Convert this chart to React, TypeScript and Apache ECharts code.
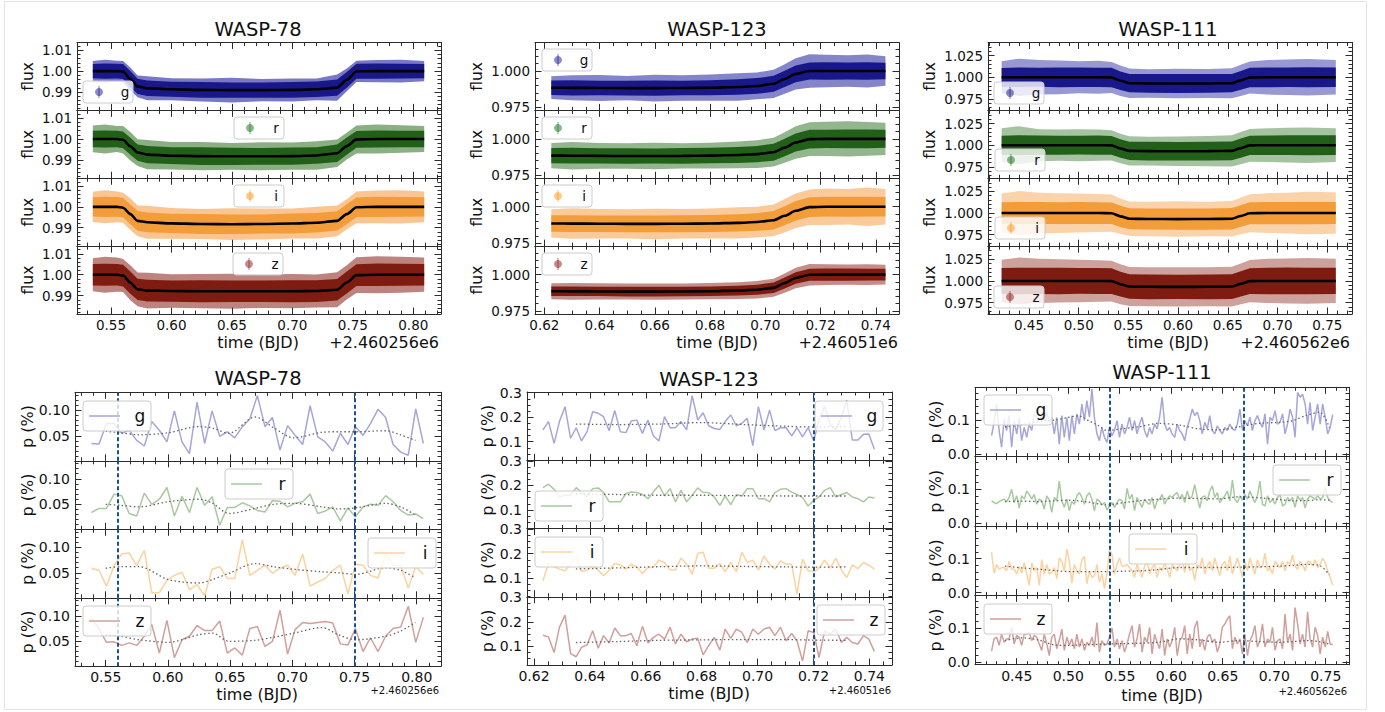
import React, { useEffect, useRef } from "react";
import * as echarts from "echarts";

// ================= tick labels =================
const xTicks78 = [0.55, 0.6, 0.65, 0.7, 0.75, 0.8];
const xTicks123 = [0.62, 0.64, 0.66, 0.68, 0.7, 0.72, 0.74];
const xTicks111 = [0.45, 0.5, 0.55, 0.6, 0.65, 0.7, 0.75];
const yTicksFlux78 = [0.99, 1.0, 1.01];
const yTicksFlux123 = [0.975, 1.0];
const yTicksFlux111 = [0.975, 1.0, 1.025];
const yTicksPol78 = [0.05, 0.1];
const yTicksPol123 = [0.1, 0.2, 0.3];
const yTicksPol111 = [0.0, 0.1];

const bandNames = ["g", "r", "i", "z"];
const targetNames = ["WASP-78", "WASP-123", "WASP-111"];
const offsetTexts = ["+2.460256e6", "+2.46051e6", "+2.460562e6"];

// ================= light curves: knots, transit models, scatter half-widths =================
const knots78 = [0.535, 0.545, 0.555, 0.56, 0.566, 0.572, 0.58, 0.6, 0.625, 0.65, 0.675, 0.7, 0.72, 0.737, 0.745, 0.753, 0.77, 0.79, 0.809];
const model78g = [1.0, 1.0, 1.0, 0.9998, 0.9962, 0.9927, 0.9918, 0.9913, 0.991, 0.9909, 0.9909, 0.991, 0.9913, 0.9921, 0.9958, 0.9999, 1.0, 1.0, 1.0];
const model78r = [1.0, 1.0, 1.0, 0.9996, 0.9965, 0.9935, 0.9925, 0.992, 0.9918, 0.9917, 0.9917, 0.9918, 0.9921, 0.9932, 0.9966, 0.9998, 1.0, 1.0, 1.0];
const model78i = [1.0, 1.0, 1.0, 0.9996, 0.9965, 0.9933, 0.9926, 0.9921, 0.9918, 0.9917, 0.9918, 0.992, 0.9924, 0.9933, 0.9965, 0.9998, 1.0, 1.0, 1.0];
const model78z = [1.0, 1.0, 1.0, 0.9996, 0.9962, 0.993, 0.9924, 0.9922, 0.9921, 0.9921, 0.9921, 0.9921, 0.9922, 0.9928, 0.9963, 0.9998, 1.0, 1.0, 1.0];
const core78g = [0.0034, 0.0037, 0.0035, 0.0036, 0.0038, 0.0036, 0.0037, 0.0036, 0.0038, 0.0037, 0.0036, 0.0038, 0.0037, 0.0039, 0.0038, 0.0036, 0.0037, 0.0035, 0.0034];
const outer78g = [0.0048, 0.0054, 0.005, 0.0051, 0.0055, 0.0052, 0.0057, 0.0053, 0.0055, 0.0059, 0.0053, 0.0055, 0.0052, 0.0063, 0.0055, 0.0051, 0.0053, 0.0055, 0.0048];
const core78r = [0.0039, 0.0041, 0.0039, 0.004, 0.0041, 0.0039, 0.0041, 0.004, 0.0042, 0.0041, 0.004, 0.0041, 0.004, 0.0042, 0.0041, 0.004, 0.0041, 0.004, 0.0039];
const outer78r = [0.0064, 0.0069, 0.0062, 0.0066, 0.0068, 0.0064, 0.007, 0.0066, 0.0068, 0.0064, 0.0067, 0.0065, 0.0068, 0.0066, 0.0064, 0.0067, 0.0069, 0.0066, 0.0062];
const core78i = [0.0046, 0.0048, 0.0047, 0.0046, 0.0048, 0.0047, 0.0047, 0.0046, 0.0048, 0.0047, 0.0046, 0.0048, 0.0047, 0.0046, 0.0048, 0.0047, 0.0048, 0.0047, 0.0046];
const outer78i = [0.0072, 0.0079, 0.0074, 0.0072, 0.0076, 0.0074, 0.0079, 0.0074, 0.0072, 0.0076, 0.0074, 0.0072, 0.0076, 0.0074, 0.0072, 0.0076, 0.0078, 0.008, 0.0074];
const core78z = [0.0051, 0.0053, 0.0051, 0.0052, 0.0053, 0.0051, 0.0052, 0.0051, 0.0053, 0.0052, 0.0051, 0.0053, 0.0052, 0.0051, 0.0053, 0.0052, 0.0054, 0.0053, 0.0051];
const outer78z = [0.0079, 0.0086, 0.0082, 0.0079, 0.0084, 0.0081, 0.0086, 0.008, 0.0082, 0.0084, 0.008, 0.0082, 0.0079, 0.0084, 0.0082, 0.0086, 0.0089, 0.0086, 0.0082];

const knots123 = [0.6225, 0.63, 0.64, 0.65, 0.66, 0.67, 0.68, 0.69, 0.697, 0.703, 0.707, 0.711, 0.716, 0.722, 0.73, 0.737, 0.7435];
const model123g = [0.9885, 0.9884, 0.9883, 0.9882, 0.9882, 0.9883, 0.9885, 0.989, 0.9897, 0.9912, 0.9945, 0.998, 1.0, 1.0, 1.0, 1.0, 1.0];
const model123r = [0.9885, 0.9884, 0.9883, 0.9882, 0.9882, 0.9883, 0.9885, 0.9889, 0.9895, 0.9908, 0.994, 0.9975, 0.9998, 1.0, 1.0, 1.0, 1.0];
const model123i = [0.9885, 0.9884, 0.9883, 0.9882, 0.9882, 0.9883, 0.9885, 0.9889, 0.9895, 0.9907, 0.9938, 0.9972, 0.9997, 1.0, 1.0, 1.0, 1.0];
const model123z = [0.9886, 0.9885, 0.9884, 0.9883, 0.9883, 0.9884, 0.9886, 0.989, 0.9896, 0.9909, 0.9942, 0.9977, 0.9999, 1.0, 1.0, 1.0, 1.0];
const core123g = [0.005, 0.0052, 0.005, 0.0051, 0.0053, 0.005, 0.0052, 0.0053, 0.0054, 0.0055, 0.0056, 0.0058, 0.0059, 0.006, 0.0058, 0.006, 0.0057];
const outer123g = [0.0078, 0.0086, 0.009, 0.0083, 0.0092, 0.0088, 0.009, 0.0095, 0.0092, 0.0097, 0.0102, 0.0107, 0.0116, 0.0112, 0.0109, 0.0114, 0.0102];
const core123r = [0.0052, 0.0054, 0.0052, 0.0053, 0.0052, 0.0054, 0.0053, 0.0055, 0.0056, 0.0058, 0.006, 0.0062, 0.0064, 0.0063, 0.0065, 0.0064, 0.0062];
const outer123r = [0.0087, 0.0095, 0.0089, 0.0087, 0.0091, 0.0087, 0.0089, 0.0092, 0.0095, 0.0099, 0.0105, 0.0111, 0.0116, 0.0118, 0.0121, 0.0116, 0.0111];
const core123i = [0.0057, 0.0058, 0.0057, 0.0058, 0.0057, 0.0058, 0.0059, 0.006, 0.0061, 0.0063, 0.0065, 0.0067, 0.0068, 0.0068, 0.0069, 0.0068, 0.0067];
const outer123i = [0.0097, 0.0105, 0.0102, 0.0101, 0.0105, 0.0102, 0.0103, 0.0107, 0.0105, 0.0109, 0.0115, 0.0119, 0.0122, 0.0125, 0.0122, 0.0132, 0.0122];
const core123z = [0.0033, 0.0033, 0.0032, 0.0033, 0.0034, 0.0033, 0.0033, 0.0034, 0.0035, 0.0036, 0.0038, 0.004, 0.0042, 0.0042, 0.0042, 0.0041, 0.004];
const outer123z = [0.0055, 0.0058, 0.0056, 0.0055, 0.0056, 0.0055, 0.0056, 0.0058, 0.006, 0.0062, 0.0066, 0.007, 0.0074, 0.0072, 0.007, 0.0072, 0.0068];

const knots111 = [0.4225, 0.44, 0.46, 0.48, 0.5, 0.52, 0.533, 0.542, 0.551, 0.57, 0.6, 0.63, 0.654, 0.663, 0.672, 0.69, 0.71, 0.73, 0.7585];
const model111g = [1, 1, 1, 1, 1, 1, 0.9998, 0.996, 0.9932, 0.9929, 0.9928, 0.9929, 0.9932, 0.9965, 0.9998, 1, 1, 1, 1];
const model111r = [1, 1, 1, 1, 1, 1, 0.9998, 0.9962, 0.9934, 0.9931, 0.993, 0.9931, 0.9934, 0.9966, 0.9998, 1, 1, 1, 1];
const model111i = [1, 1, 1, 1, 1, 1, 0.9998, 0.9962, 0.9934, 0.9931, 0.993, 0.9931, 0.9934, 0.9966, 0.9998, 1, 1, 1, 1];
const model111z = [1, 1, 1, 1, 1, 1, 0.9998, 0.9962, 0.9935, 0.9932, 0.9931, 0.9932, 0.9935, 0.9966, 0.9998, 1, 1, 1, 1];
const core111g = [0.0108, 0.0113, 0.011, 0.0114, 0.0112, 0.0111, 0.0113, 0.0108, 0.0106, 0.0108, 0.011, 0.0108, 0.0106, 0.0108, 0.0112, 0.0114, 0.0113, 0.0115, 0.0113];
const outer111g = [0.0185, 0.0215, 0.02, 0.0195, 0.0185, 0.019, 0.018, 0.0175, 0.017, 0.0165, 0.017, 0.0168, 0.0173, 0.018, 0.0185, 0.02, 0.0205, 0.021, 0.02];
const core111r = [0.011, 0.0114, 0.0112, 0.011, 0.0108, 0.0111, 0.0108, 0.0106, 0.0106, 0.0108, 0.0107, 0.0108, 0.0109, 0.011, 0.0112, 0.0113, 0.0114, 0.0115, 0.0114];
const outer111r = [0.0195, 0.022, 0.0185, 0.018, 0.0185, 0.018, 0.0175, 0.017, 0.017, 0.0165, 0.017, 0.0175, 0.018, 0.0185, 0.019, 0.0195, 0.02, 0.0205, 0.0195];
const core111i = [0.0125, 0.0129, 0.0127, 0.0125, 0.0127, 0.0126, 0.0125, 0.0123, 0.0122, 0.0121, 0.0122, 0.0123, 0.0124, 0.0125, 0.0127, 0.0128, 0.0129, 0.0129, 0.0127];
const outer111i = [0.0225, 0.0255, 0.0235, 0.023, 0.0225, 0.022, 0.0215, 0.0205, 0.02, 0.02, 0.0205, 0.02, 0.0205, 0.021, 0.022, 0.023, 0.0235, 0.0245, 0.024];
const core111z = [0.0148, 0.0153, 0.0151, 0.0153, 0.0149, 0.015, 0.0148, 0.0143, 0.0141, 0.0143, 0.0141, 0.0143, 0.0143, 0.0145, 0.0149, 0.0153, 0.0155, 0.0153, 0.0151];
const outer111z = [0.0245, 0.027, 0.0255, 0.025, 0.0245, 0.024, 0.0235, 0.023, 0.0225, 0.0225, 0.0227, 0.0225, 0.023, 0.0235, 0.0245, 0.0255, 0.026, 0.0265, 0.0255];

// ================= polarisation (binned) =================
const time78 = [0.5385, 0.5446, 0.5506, 0.5567, 0.5628, 0.5688, 0.5749, 0.581, 0.587, 0.5931, 0.5992, 0.6052, 0.6113, 0.6173, 0.6234, 0.6295, 0.6355, 0.6416, 0.6477, 0.6537, 0.6598, 0.6658, 0.6719, 0.678, 0.684, 0.6901, 0.6962, 0.7022, 0.7083, 0.7143, 0.7204, 0.7265, 0.7325, 0.7386, 0.7447, 0.7507, 0.7568, 0.7628, 0.7689, 0.775, 0.781, 0.7871, 0.7932, 0.7992, 0.8053];
const pol78g = [0.035, 0.034, 0.074, 0.074, 0.055, 0.061, 0.041, 0.03, 0.078, 0.061, 0.038, 0.099, 0.038, 0.015, 0.116, 0.035, 0.099, 0.049, 0.058, 0.046, 0.068, 0.083, 0.129, 0.068, 0.086, 0.022, 0.07, 0.051, 0.033, 0.109, 0.048, 0.038, 0.02, 0.055, 0.033, 0.068, 0.051, 0.074, 0.102, 0.086, 0.033, 0.018, 0.012, 0.103, 0.035];
const pol78r = [0.034, 0.042, 0.042, 0.07, 0.067, 0.032, 0.027, 0.072, 0.05, 0.06, 0.083, 0.027, 0.066, 0.034, 0.083, 0.048, 0.065, 0.009, 0.044, 0.044, 0.053, 0.047, 0.038, 0.035, 0.057, 0.056, 0.045, 0.052, 0.055, 0.07, 0.032, 0.037, 0.045, 0.017, 0.043, 0.025, 0.045, 0.05, 0.048, 0.067, 0.055, 0.038, 0.029, 0.031, 0.022];
const pol78i = [0.059, 0.055, 0.024, 0.064, 0.087, 0.089, 0.064, 0.094, 0.011, 0.011, 0.035, 0.045, 0.051, 0.017, 0.027, 0.005, 0.057, 0.062, 0.039, 0.039, 0.115, 0.045, 0.055, 0.065, 0.049, 0.059, 0.065, 0.045, 0.087, 0.024, 0.032, 0.039, 0.055, 0.065, 0.009, 0.067, 0.065, 0.045, 0.04, 0.087, 0.065, 0.065, 0.02, 0.062, 0.047];
const pol78z = [0.095, 0.075, 0.048, 0.049, 0.042, 0.047, 0.042, 0.06, 0.083, 0.027, 0.091, 0.018, 0.053, 0.06, 0.081, 0.071, 0.071, 0.09, 0.027, 0.037, 0.023, 0.075, 0.079, 0.04, 0.05, 0.111, 0.025, 0.073, 0.087, 0.085, 0.087, 0.089, 0.086, 0.045, 0.043, 0.075, 0.03, 0.057, 0.03, 0.06, 0.075, 0.078, 0.119, 0.048, 0.097];
const trendTime78 = [0.55, 0.562, 0.577, 0.6, 0.625, 0.636, 0.649, 0.67, 0.685, 0.701, 0.724, 0.737, 0.751, 0.775, 0.787, 0.799];
const trend78g = [0.059, 0.056, 0.052, 0.056, 0.068, 0.065, 0.055, 0.087, 0.066, 0.046, 0.057, 0.058, 0.058, 0.06, 0.052, 0.041];
const trend78r = [0.05, 0.048, 0.045, 0.055, 0.06, 0.052, 0.032, 0.042, 0.05, 0.052, 0.045, 0.041, 0.043, 0.052, 0.045, 0.029];
const trend78i = [0.059, 0.062, 0.062, 0.037, 0.03, 0.037, 0.049, 0.068, 0.062, 0.057, 0.052, 0.05, 0.047, 0.06, 0.055, 0.04];
const trend78z = [0.063, 0.06, 0.053, 0.048, 0.063, 0.066, 0.05, 0.052, 0.058, 0.066, 0.077, 0.063, 0.053, 0.06, 0.07, 0.087];
const transits78 = [0.5613, 0.7524];

const time123 = [0.6232, 0.6252, 0.6272, 0.6291, 0.6311, 0.6331, 0.6351, 0.637, 0.639, 0.641, 0.643, 0.6449, 0.6469, 0.6489, 0.6509, 0.6529, 0.6548, 0.6568, 0.6588, 0.6608, 0.6627, 0.6647, 0.6667, 0.6687, 0.6706, 0.6726, 0.6746, 0.6766, 0.6786, 0.6805, 0.6825, 0.6845, 0.6865, 0.6884, 0.6904, 0.6924, 0.6944, 0.6963, 0.6983, 0.7003, 0.7023, 0.7043, 0.7062, 0.7082, 0.7102, 0.7122, 0.7141, 0.7161, 0.7181, 0.7201, 0.722, 0.724, 0.726, 0.728, 0.73, 0.7319, 0.7339, 0.7359, 0.7379, 0.7398, 0.7418];
const pol123g = [0.148, 0.182, 0.093, 0.182, 0.243, 0.114, 0.157, 0.103, 0.141, 0.222, 0.216, 0.202, 0.145, 0.227, 0.141, 0.137, 0.184, 0.188, 0.134, 0.188, 0.124, 0.103, 0.202, 0.157, 0.157, 0.182, 0.148, 0.288, 0.188, 0.218, 0.165, 0.154, 0.15, 0.182, 0.209, 0.165, 0.175, 0.195, 0.084, 0.243, 0.148, 0.229, 0.145, 0.157, 0.157, 0.124, 0.157, 0.12, 0.157, 0.103, 0.19, 0.245, 0.168, 0.15, 0.2, 0.27, 0.107, 0.107, 0.13, 0.131, 0.069];
const pol123r = [0.191, 0.205, 0.184, 0.153, 0.16, 0.16, 0.191, 0.171, 0.153, 0.187, 0.19, 0.171, 0.133, 0.133, 0.133, 0.167, 0.173, 0.171, 0.163, 0.146, 0.173, 0.201, 0.157, 0.187, 0.133, 0.18, 0.133, 0.16, 0.19, 0.171, 0.171, 0.153, 0.119, 0.157, 0.122, 0.163, 0.157, 0.187, 0.187, 0.146, 0.146, 0.133, 0.171, 0.184, 0.187, 0.173, 0.163, 0.15, 0.116, 0.139, 0.153, 0.18, 0.191, 0.153, 0.163, 0.171, 0.153, 0.146, 0.133, 0.153, 0.149];
const pol123i = [0.089, 0.16, 0.146, 0.137, 0.13, 0.157, 0.187, 0.127, 0.133, 0.15, 0.133, 0.11, 0.133, 0.16, 0.154, 0.137, 0.157, 0.146, 0.119, 0.144, 0.144, 0.174, 0.164, 0.134, 0.133, 0.182, 0.157, 0.116, 0.201, 0.206, 0.141, 0.141, 0.16, 0.127, 0.164, 0.127, 0.205, 0.164, 0.174, 0.133, 0.191, 0.157, 0.137, 0.171, 0.157, 0.157, 0.035, 0.178, 0.13, 0.126, 0.141, 0.174, 0.141, 0.182, 0.133, 0.103, 0.154, 0.139, 0.164, 0.153, 0.137];
const pol123z = [0.146, 0.139, 0.075, 0.178, 0.228, 0.071, 0.058, 0.096, 0.107, 0.164, 0.093, 0.144, 0.114, 0.175, 0.144, 0.144, 0.153, 0.103, 0.182, 0.114, 0.137, 0.15, 0.13, 0.178, 0.11, 0.15, 0.119, 0.13, 0.133, 0.066, 0.103, 0.137, 0.085, 0.171, 0.133, 0.171, 0.157, 0.116, 0.171, 0.15, 0.171, 0.178, 0.144, 0.178, 0.123, 0.153, 0.123, 0.041, 0.164, 0.157, 0.055, 0.164, 0.15, 0.171, 0.116, 0.137, 0.116, 0.11, 0.144, 0.13, 0.08];
const trendTime123 = [0.635, 0.65, 0.665, 0.68, 0.695, 0.71, 0.72, 0.732];
const trend123g = [0.172, 0.17, 0.172, 0.178, 0.17, 0.163, 0.16, 0.161];
const trend123r = [0.166, 0.163, 0.16, 0.16, 0.158, 0.157, 0.157, 0.157];
const trend123i = [0.138, 0.142, 0.147, 0.15, 0.148, 0.146, 0.145, 0.146];
const trend123z = [0.116, 0.12, 0.125, 0.127, 0.128, 0.128, 0.126, 0.125];
const transits123 = [0.7189];

const time111 = [
  0.4256, 0.428, 0.4305, 0.4329, 0.4353, 0.4378, 0.4402, 0.4426, 0.4451, 0.4475,
  0.45, 0.4524, 0.4548, 0.4573, 0.4597, 0.4621, 0.4646, 0.467, 0.4694, 0.4719,
  0.4743, 0.4767, 0.4792, 0.4816, 0.484, 0.4865, 0.4889, 0.4913, 0.4938, 0.4962,
  0.4987, 0.5011, 0.5035, 0.506, 0.5084, 0.5108, 0.5133, 0.5157, 0.5181, 0.5206,
  0.523, 0.5254, 0.5279, 0.5303, 0.5327, 0.5352, 0.5376, 0.54, 0.5425, 0.5449,
  0.5474, 0.5498, 0.5522, 0.5547, 0.5571, 0.5595, 0.562, 0.5644, 0.5668, 0.5693,
  0.5717, 0.5741, 0.5766, 0.579, 0.5814, 0.5839, 0.5863, 0.5887, 0.5912, 0.5936,
  0.5961, 0.5985, 0.6009, 0.6034, 0.6058, 0.6082, 0.6107, 0.6131, 0.6155, 0.618,
  0.6204, 0.6228, 0.6253, 0.6277, 0.6301, 0.6326, 0.635, 0.6374, 0.6399, 0.6423,
  0.6448, 0.6472, 0.6496, 0.6521, 0.6545, 0.6569, 0.6594, 0.6618, 0.6642, 0.6667,
  0.6691, 0.6715, 0.674, 0.6764, 0.6788, 0.6813, 0.6837, 0.6861, 0.6886, 0.691,
  0.6935, 0.6959, 0.6983, 0.7008, 0.7032, 0.7056, 0.7081, 0.7105, 0.7129, 0.7154,
  0.7178, 0.7202, 0.7227, 0.7251, 0.7275, 0.73, 0.7324, 0.7348, 0.7373, 0.7397,
  0.7422, 0.7446, 0.747, 0.7495, 0.7519, 0.7543, 0.7568,
];
const pol111g = [
  0.054, 0.093, 0.147, 0.069, 0.02, 0.103, 0.069, 0.113, 0.02, 0.098,
  0.059, 0.108, 0.039, 0.078, 0.049, 0.088, 0.069, 0.118, 0.108, 0.103,
  0.113, 0.098, 0.123, 0.093, 0.108, 0.059, 0.108, 0.029, 0.113, 0.049,
  0.108, 0.039, 0.113, 0.059, 0.118, 0.088, 0.147, 0.098, 0.157, 0.108,
  0.191, 0.108, 0.059, 0.039, 0.078, 0.049, 0.034, 0.078, 0.054, 0.069,
  0.098, 0.049, 0.088, 0.059, 0.078, 0.108, 0.069, 0.098, 0.059, 0.088,
  0.108, 0.069, 0.049, 0.078, 0.059, 0.088, 0.074, 0.108, 0.167, 0.088,
  0.069, 0.078, 0.059, 0.049, 0.088, 0.069, 0.059, 0.039, 0.078, 0.103,
  0.132, 0.113, 0.123, 0.098, 0.059, 0.093, 0.074, 0.113, 0.069, 0.059,
  0.083, 0.069, 0.059, 0.078, 0.069, 0.088, 0.074, 0.069, 0.088, 0.132,
  0.069, 0.098, 0.083, 0.108, 0.069, 0.098, 0.113, 0.093, 0.078, 0.118,
  0.029, 0.108, 0.098, 0.127, 0.088, 0.093, 0.118, 0.059, 0.088, 0.132,
  0.108, 0.049, 0.181, 0.167, 0.176, 0.147, 0.088, 0.152, 0.069, 0.108,
  0.147, 0.088, 0.147, 0.108, 0.059, 0.078, 0.116,
];
const pol111r = [
  0.066, 0.061, 0.058, 0.064, 0.068, 0.071, 0.064, 0.076, 0.1, 0.061,
  0.081, 0.045, 0.081, 0.071, 0.095, 0.085, 0.071, 0.085, 0.056, 0.071,
  0.066, 0.042, 0.081, 0.068, 0.032, 0.076, 0.066, 0.124, 0.066, 0.047,
  0.071, 0.037, 0.064, 0.056, 0.081, 0.09, 0.076, 0.056, 0.081, 0.09,
  0.071, 0.037, 0.071, 0.066, 0.054, 0.061, 0.039, 0.051, 0.061, 0.047,
  0.061, 0.071, 0.066, 0.042, 0.103, 0.071, 0.085, 0.037, 0.076, 0.061,
  0.047, 0.071, 0.061, 0.056, 0.076, 0.042, 0.066, 0.071, 0.085, 0.056,
  0.071, 0.081, 0.076, 0.085, 0.09, 0.071, 0.085, 0.061, 0.095, 0.071,
  0.081, 0.114, 0.076, 0.045, 0.076, 0.081, 0.066, 0.095, 0.11, 0.076,
  0.09, 0.061, 0.071, 0.081, 0.095, 0.066, 0.127, 0.071, 0.061, 0.081,
  0.068, 0.085, 0.071, 0.095, 0.076, 0.061, 0.081, 0.124, 0.056, 0.051,
  0.081, 0.061, 0.071, 0.056, 0.076, 0.085, 0.051, 0.056, 0.076, 0.066,
  0.076, 0.047, 0.081, 0.068, 0.076, 0.045, 0.071, 0.081, 0.076, 0.071,
  0.081, 0.071, 0.076, 0.105, 0.076, 0.066, 0.061,
];
const pol111i = [
  0.119, 0.057, 0.083, 0.069, 0.074, 0.074, 0.064, 0.092, 0.069, 0.069,
  0.055, 0.078, 0.057, 0.088, 0.055, 0.022, 0.088, 0.064, 0.074, 0.022,
  0.097, 0.055, 0.083, 0.055, 0.059, 0.074, 0.041, 0.102, 0.092, 0.064,
  0.128, 0.092, 0.028, 0.083, 0.064, 0.055, 0.097, 0.107, 0.026, 0.064,
  0.045, 0.05, 0.083, 0.031, 0.055, 0.012, 0.055, 0.125, 0.111, 0.055,
  0.083, 0.102, 0.078, 0.078, 0.083, 0.074, 0.064, 0.045, 0.083, 0.064,
  0.045, 0.078, 0.092, 0.055, 0.074, 0.083, 0.045, 0.074, 0.064, 0.088,
  0.069, 0.045, 0.083, 0.074, 0.064, 0.083, 0.092, 0.059, 0.107, 0.064,
  0.074, 0.036, 0.083, 0.074, 0.102, 0.055, 0.078, 0.092, 0.064, 0.102,
  0.074, 0.05, 0.083, 0.092, 0.064, 0.107, 0.055, 0.078, 0.102, 0.074,
  0.045, 0.092, 0.064, 0.102, 0.078, 0.055, 0.097, 0.074, 0.078, 0.116,
  0.064, 0.074, 0.055, 0.092, 0.083, 0.074, 0.092, 0.064, 0.092, 0.083,
  0.111, 0.078, 0.069, 0.092, 0.083, 0.064, 0.091, 0.092, 0.078, 0.097,
  0.074, 0.083, 0.102, 0.088, 0.064, 0.045, 0.022,
];
const pol111z = [
  0.032, 0.068, 0.073, 0.049, 0.082, 0.058, 0.068, 0.068, 0.102, 0.053,
  0.078, 0.073, 0.049, 0.082, 0.082, 0.087, 0.063, 0.078, 0.073, 0.053,
  0.034, 0.082, 0.053, 0.019, 0.073, 0.082, 0.039, 0.063, 0.097, 0.034,
  0.073, 0.049, 0.068, 0.039, 0.082, 0.044, 0.068, 0.034, 0.058, 0.049,
  0.073, 0.044, 0.116, 0.029, 0.063, 0.049, 0.053, 0.073, 0.1, 0.044,
  0.068, 0.039, 0.063, 0.029, 0.053, 0.082, 0.107, 0.044, 0.068, 0.112,
  0.029, 0.073, 0.058, 0.102, 0.024, 0.082, 0.058, 0.039, 0.097, 0.019,
  0.068, 0.044, 0.063, 0.102, 0.019, 0.063, 0.073, 0.107, 0.024, 0.082,
  0.039, 0.102, 0.121, 0.044, 0.068, 0.034, 0.073, 0.082, 0.058, 0.068,
  0.029, 0.053, 0.102, 0.112, 0.126, 0.136, 0.039, 0.073, 0.053, 0.068,
  0.024, 0.082, 0.019, 0.063, 0.078, 0.107, 0.044, 0.063, 0.112, 0.044,
  0.068, 0.058, 0.102, 0.034, 0.063, 0.068, 0.039, 0.141, 0.058,
  0.082, 0.034, 0.16, 0.112, 0.053, 0.082, 0.044, 0.148, 0.068, 0.044,
  0.102, 0.078, 0.024, 0.073, 0.044, 0.09, 0.053, 0.051,
];
const trendTime111 = [0.4386, 0.4549, 0.4711, 0.4873, 0.5003, 0.5101, 0.5198, 0.5296, 0.5377, 0.5523, 0.5685, 0.588, 0.6075, 0.627, 0.6464, 0.6659, 0.6854, 0.7049, 0.7179, 0.7309, 0.7439, 0.7536];
const trend111g = [0.08, 0.086, 0.096, 0.1, 0.108, 0.112, 0.098, 0.083, 0.069, 0.074, 0.08, 0.09, 0.085, 0.074, 0.071, 0.08, 0.09, 0.093, 0.098, 0.113, 0.123, 0.078];
const trend111r = [0.064, 0.065, 0.064, 0.066, 0.068, 0.066, 0.062, 0.057, 0.054, 0.06, 0.066, 0.071, 0.074, 0.073, 0.072, 0.078, 0.075, 0.07, 0.066, 0.067, 0.069, 0.068];
const trend111i = [0.078, 0.073, 0.069, 0.065, 0.062, 0.062, 0.062, 0.062, 0.062, 0.063, 0.064, 0.068, 0.074, 0.074, 0.074, 0.075, 0.076, 0.078, 0.08, 0.083, 0.08, 0.052];
const trend111z = [0.063, 0.071, 0.065, 0.05, 0.049, 0.05, 0.051, 0.052, 0.053, 0.054, 0.055, 0.058, 0.068, 0.065, 0.058, 0.063, 0.06, 0.058, 0.06, 0.063, 0.06, 0.052];
const transits111 = [0.5374, 0.6704];

// ================= styles =================
const FONT = "DejaVu Sans";
const TXT = "#111111";
const AX = "#2b2b2b";
const coreCol = ["#18188a", "#22601a", "#f39c3a", "#7e1c12"];
const outerRGB = ["10,10,150", "40,110,30", "245,150,55", "135,30,20"];
const iconCol = ["rgba(0,0,128,0.45)", "rgba(0,100,0,0.45)", "rgba(255,140,0,0.45)", "rgba(128,0,0,0.45)"];
const polCol = ["#a6a6d8", "#a9c9a0", "#fcd29f", "#cfa09c"];

function minorTicks(min: number, max: number, step: number, majors: number[]) {
  const out: number[] = [];
  const k0 = Math.ceil(min / step - 1e-6);
  const k1 = Math.floor(max / step + 1e-6);
  for (let k = k0; k <= k1; k++) {
    const v = +(k * step).toFixed(6);
    if (v <= min || v >= max) continue;
    if (majors.some((m) => Math.abs(m - v) < step * 0.01)) continue;
    out.push(v);
  }
  return out;
}

// band polygon drawn through the axis scales (api.coord)
function bandRenderer(color: string) {
  return (params: any, api: any) => {
    if (params.dataIndex !== 0) return null;
    const n = params.dataInsideLength;
    const upper: number[][] = [];
    const lower: number[][] = [];
    for (let j = 0; j < n; j++) {
      const t = api.value(0, j);
      upper.push(api.coord([t, api.value(2, j)]));
      lower.push(api.coord([t, api.value(1, j)]));
    }
    return {
      type: "polygon",
      shape: { points: upper.concat(lower.reverse()) },
      style: { fill: color, stroke: "none" },
      silent: true,
    };
  };
}

function buildOption() {
  const grids: any[] = [];
  const xAxes: any[] = [];
  const yAxes: any[] = [];
  const series: any[] = [];
  const gfx: any[] = [];

  const addSubplot = (o: any) => {
    const gi = grids.length;
    grids.push({ left: o.left, top: o.top, width: o.width, height: o.height, containLabel: false });
    const xMaj = o.xTicks.filter((v: number) => v > o.xr[0] && v < o.xr[1]);
    const yMaj = o.yTicks.filter((v: number) => v >= o.yr[0] && v <= o.yr[1]);
    const xMin = minorTicks(o.xr[0], o.xr[1], o.xMinor, o.xTicks);
    const yMin = minorTicks(o.yr[0], o.yr[1], o.yMinor, o.yTicks);
    const mk = (dim: string, pos: string, ticks: number[], len: number, line: boolean, label: any) => ({
      type: "value",
      gridIndex: gi,
      position: pos,
      min: dim === "x" ? o.xr[0] : o.yr[0],
      max: dim === "x" ? o.xr[1] : o.yr[1],
      axisLine: { show: line, onZero: false, lineStyle: { color: AX, width: 1 } },
      axisTick: { show: ticks.length > 0, inside: true, length: len, customValues: ticks, lineStyle: { color: AX, width: 1 } },
      axisLabel: label || { show: false },
      splitLine: { show: false },
      minorTick: { show: false },
      axisPointer: { show: false },
    });
    const xi = xAxes.length;
    xAxes.push(
      mk("x", "bottom", xMaj, 6.5, true, o.xLabels
        ? { show: true, customValues: xMaj, formatter: (v: number) => v.toFixed(2), margin: 4, fontSize: o.tickFont, color: TXT, fontFamily: FONT }
        : null)
    );
    xAxes.push(mk("x", "top", xMaj, 6.5, true, null));
    xAxes.push(mk("x", "bottom", xMin, 3.5, false, null));
    xAxes.push(mk("x", "top", xMin, 3.5, false, null));
    const yi = yAxes.length;
    yAxes.push(
      mk("y", "left", yMaj, 6.5, true, { show: true, customValues: yMaj, formatter: (v: number) => v.toFixed(o.yDec), margin: 5, fontSize: o.tickFont, color: TXT, fontFamily: FONT })
    );
    yAxes.push(mk("y", "right", yMaj, 6.5, true, null));
    yAxes.push(mk("y", "left", yMin, 3.5, false, null));
    yAxes.push(mk("y", "right", yMin, 3.5, false, null));
    return { xi, yi };
  };

  const text = (x: number, y: number, s: string, size: number, extra: any = {}) => ({
    type: "text",
    x,
    y,
    z: 100,
    rotation: extra.rotation || 0,
    style: { text: s, fontSize: size, fontFamily: FONT, fill: TXT, align: extra.align || "center", verticalAlign: "middle" },
  });

  // ---------------- light-curve panels ----------------
  const fluxPanels = [
    {
      knots: knots78,
      models: [model78g, model78r, model78i, model78z],
      cores: [core78g, core78r, core78i, core78z],
      outers: [outer78g, outer78r, outer78i, outer78z],
      outerAlpha: 0.55,
      left: 77, width: 364, xr: [0.5219, 0.8229], yr: [0.9812, 1.0137],
      xTicks: xTicks78, yTicks: yTicksFlux78, xMinor: 0.01, yMinor: 0.002, yDec: 2,
      legends: [[83, 81], [234, 117], [234, 185], [233, 253]],
      titleX: 258, ylabX: 28, xlabX: 258, offRight: 439,
    },
    {
      knots: knots123,
      models: [model123g, model123r, model123i, model123z],
      cores: [core123g, core123r, core123i, core123z],
      outers: [outer123g, outer123r, outer123i, outer123z],
      outerAlpha: 0.5,
      left: 535, width: 364, xr: [0.6166, 0.7484], yr: [0.9729, 1.0196],
      xTicks: xTicks123, yTicks: yTicksFlux123, xMinor: 0.005, yMinor: 0.005, yDec: 3,
      legends: [[542, 49], [542, 117], [542, 185], [542, 253]],
      titleX: 717, ylabX: 477, xlabX: 717, offRight: 898,
    },
    {
      knots: knots111,
      models: [model111g, model111r, model111i, model111z],
      cores: [core111g, core111r, core111i, core111z],
      outers: [outer111g, outer111r, outer111i, outer111z],
      outerAlpha: 0.42,
      left: 988, width: 364, xr: [0.4088, 0.7748], yr: [0.9618, 1.0402],
      xTicks: xTicks111, yTicks: yTicksFlux111, xMinor: 0.01, yMinor: 0.005, yDec: 3,
      legends: [[994, 82], [995, 149], [995, 217], [994, 286]],
      titleX: 1168, ylabX: 930, xlabX: 1168, offRight: 1350,
    },
  ];

  const FTOP = 42.5;
  const FH = 67.875;
  fluxPanels.forEach((p, pi) => {
    for (let b = 0; b < 4; b++) {
      const top = FTOP + b * FH;
      const { xi, yi } = addSubplot({
        left: p.left, top, width: p.width, height: FH, xr: p.xr, yr: p.yr,
        xTicks: p.xTicks, yTicks: p.yTicks, xMinor: p.xMinor, yMinor: p.yMinor,
        xLabels: b === 3, yDec: p.yDec, tickFont: 13.5,
      });
      const m = p.models[b];
      const c = p.cores[b];
      const o = p.outers[b];
      const bandBase = {
        type: "custom", xAxisIndex: xi, yAxisIndex: yi, silent: true, clip: true,
        dimensions: ["t", "lo", "hi"], encode: { x: 0, y: [1, 2] },
      };
      series.push({ ...bandBase, renderItem: bandRenderer(`rgba(${outerRGB[b]},${p.outerAlpha})`), data: p.knots.map((t, i) => [t, m[i] - o[i], m[i] + o[i]]) });
      series.push({ ...bandBase, renderItem: bandRenderer(coreCol[b]), data: p.knots.map((t, i) => [t, m[i] - c[i], m[i] + c[i]]) });
      series.push({
        type: "line", xAxisIndex: xi, yAxisIndex: yi, symbol: "none", silent: true,
        smooth: 0.25, smoothMonotone: "x", z: 3,
        lineStyle: { color: "#000", width: 2.6 },
        data: p.knots.map((t, i) => [t, m[i]]),
      });
      gfx.push(text(p.ylabX, top + FH / 2, "flux", 15.5, { rotation: Math.PI / 2 }));
      const [lx, ly] = p.legends[b];
      gfx.push({
        type: "group", x: lx, y: ly, z: 100,
        children: [
          { type: "rect", shape: { x: 0, y: 0, width: 50, height: 22, r: 3 }, style: { fill: "rgba(255,255,255,0.8)", stroke: "#cccccc", lineWidth: 1 }, z: 100 },
          { type: "line", shape: { x1: 16, y1: 5, x2: 16, y2: 17 }, style: { stroke: iconCol[b], lineWidth: 1.2 }, z: 101 },
          { type: "circle", shape: { cx: 16, cy: 11, r: 4 }, style: { fill: iconCol[b] }, z: 101 },
          { type: "text", x: 42, y: 11, z: 101, style: { text: bandNames[b], fontSize: 13.5, fontFamily: FONT, fill: TXT, align: "center", verticalAlign: "middle" } },
        ],
      });
    }
    gfx.push(text(p.titleX, 29, targetNames[pi], 19.5));
    gfx.push(text(p.xlabX, 342, "time (BJD)", 16));
    gfx.push(text(p.offRight, 342, offsetTexts[pi], 16, { align: "right" }));
  });

  // ---------------- polarisation panels ----------------
  const polPanels = [
    {
      times: time78, vals: [pol78g, pol78r, pol78i, pol78z],
      trendT: trendTime78, trends: [trend78g, trend78r, trend78i, trend78z], transits: transits78,
      left: 75, width: 366, top: 392.3, h: 68.5, xr: [0.5253, 0.8195], yr: [0.001, 0.1354],
      xTicks: xTicks78, yTicks: yTicksPol78, xMinor: 0.01, yMinor: 0.01, yDec: 2,
      legends: [[83, 401], [225, 469], [368, 538], [83, 606]],
      titleX: 258, titleY: 378, ylabX: 27, xlabX: 257, xlabY: 694, offRight: 439, offY: 690,
    },
    {
      times: time123, vals: [pol123g, pol123r, pol123i, pol123z],
      trendT: trendTime123, trends: [trend123g, trend123r, trend123i, trend123z], transits: transits123,
      left: 527, width: 365, top: 392, h: 68.25, xr: [0.6175, 0.7481], yr: [0.0243, 0.3028],
      xTicks: xTicks123, yTicks: yTicksPol123, xMinor: 0.005, yMinor: 0.025, yDec: 1,
      legends: [[815, 401], [535, 491], [535, 537], [817, 605]],
      titleX: 709, titleY: 379, ylabX: 487, xlabX: 709, xlabY: 693, offRight: 891, offY: 690,
    },
    {
      times: time111, vals: [pol111g, pol111r, pol111i, pol111z],
      trendT: trendTime111, trends: [trend111g, trend111r, trend111i, trend111z], transits: transits111,
      left: 975, width: 374, top: 387.3, h: 69.35, xr: [0.4095, 0.7726], yr: [-0.008, 0.1962],
      xTicks: xTicks111, yTicks: yTicksPol111, xMinor: 0.01, yMinor: 0.02, yDec: 1,
      legends: [[984, 395], [1273, 465], [1129, 534], [984, 604]],
      titleX: 1162, titleY: 372, ylabX: 935, xlabX: 1162, xlabY: 695, offRight: 1347, offY: 691,
    },
  ];

  polPanels.forEach((p, pi) => {
    for (let b = 0; b < 4; b++) {
      const top = p.top + b * p.h;
      const { xi, yi } = addSubplot({
        left: p.left, top, width: p.width, height: p.h, xr: p.xr, yr: p.yr,
        xTicks: p.xTicks, yTicks: p.yTicks, xMinor: p.xMinor, yMinor: p.yMinor,
        xLabels: b === 3, yDec: p.yDec, tickFont: 14,
      });
      const v = p.vals[b];
      const tr = p.trends[b];
      series.push({
        type: "line", xAxisIndex: xi, yAxisIndex: yi, symbol: "none", silent: true,
        lineStyle: { color: polCol[b], width: 1.5 },
        data: p.times.map((t, i) => [t, v[i]]),
        markLine: {
          silent: true, symbol: ["none", "none"], label: { show: false },
          lineStyle: { color: "#1d4f8e", type: [4, 2.5], width: 2 },
          data: p.transits.map((x) => ({ xAxis: x })),
        },
      });
      series.push({
        type: "line", xAxisIndex: xi, yAxisIndex: yi, symbol: "none", silent: true,
        smooth: 0.3,
        lineStyle: { color: "#666666", width: 1.3, type: [1.5, 2.5] },
        data: p.trendT.map((t, i) => [t, tr[i]]),
      });
      gfx.push(text(p.ylabX, top + p.h / 2, "p (%)", 16, { rotation: Math.PI / 2 }));
      const [lx, ly] = p.legends[b];
      gfx.push({
        type: "group", x: lx, y: ly, z: 100,
        children: [
          { type: "rect", shape: { x: 0, y: 0, width: 68, height: 30, r: 3 }, style: { fill: "rgba(255,255,255,0.8)", stroke: "#cccccc", lineWidth: 1 }, z: 100 },
          { type: "line", shape: { x1: 6, y1: 15, x2: 37, y2: 15 }, style: { stroke: polCol[b], lineWidth: 1.5 }, z: 101 },
          { type: "text", x: 57, y: 15, z: 101, style: { text: bandNames[b], fontSize: 17, fontFamily: FONT, fill: TXT, align: "center", verticalAlign: "middle" } },
        ],
      });
    }
    gfx.push(text(p.titleX, p.titleY, targetNames[pi], 19.5));
    gfx.push(text(p.xlabX, p.xlabY, "time (BJD)", 16));
    gfx.push(text(p.offRight, p.offY, offsetTexts[pi], 10, { align: "right" }));
  });

  gfx.push({ type: "rect", z: 0, shape: { x: 4.5, y: 1.5, width: 1362, height: 708 }, style: { fill: "none", stroke: "#e4e4e4", lineWidth: 1 } });

  return {
    animation: false,
    backgroundColor: "#ffffff",
    grid: grids,
    xAxis: xAxes,
    yAxis: yAxes,
    series,
    graphic: { elements: gfx },
  };
}

export default function App() {
  const ref = useRef<HTMLDivElement>(null);
  useEffect(() => {
    if (!ref.current) return;
    const chart = echarts.init(ref.current, null, { renderer: "svg" });
    chart.setOption(buildOption() as any);
    return () => chart.dispose();
  }, []);
  return (
    <div
      ref={ref}
      style={{ position: "fixed", left: 0, top: 0, width: 1385, height: 712, background: "#ffffff" }}
    />
  );
}
